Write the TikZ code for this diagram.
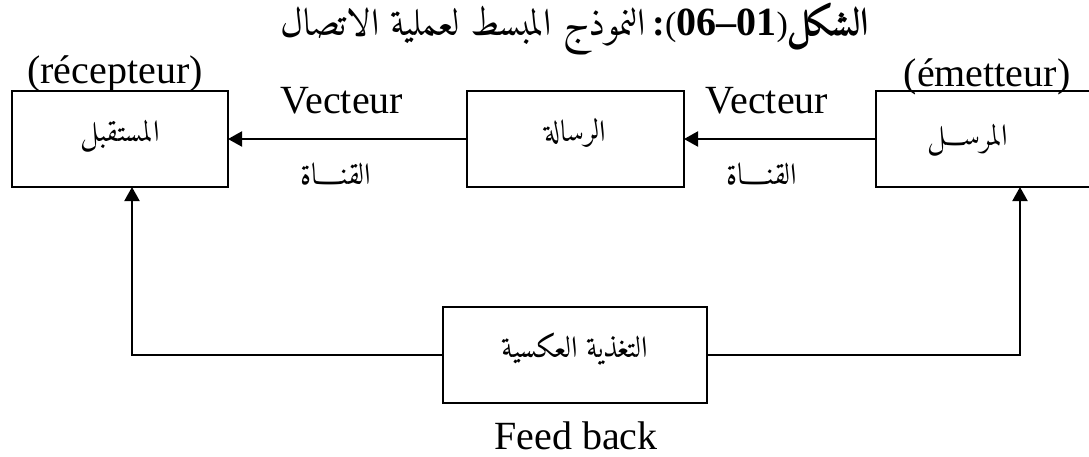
\documentclass[tikz,border=0pt]{standalone}
\usepackage{fontspec}
\usetikzlibrary{arrows.meta}
\setmainfont{Liberation Serif}
\TeXXeTstate=1
\IfFontExistsTF{Amiri-Regular.ttf}{%
  \newfontfamily\arabicfont[Script=Arabic,BoldFont=Amiri-Bold.ttf]{Amiri-Regular.ttf}%
}{%
  \newfontfamily\arabicfont[Script=Arabic]{DejaVu Sans}%
}
\begin{document}
\begin{tikzpicture}[x=0.5pt,y=-0.5pt,
  box/.style={draw, line width=1pt, inner sep=0pt, outer sep=0pt,
    minimum height=48pt, text height=6pt, text depth=4pt,
    font=\arabicfont\fontsize{15}{18}\selectfont},
  link/.style={line width=1pt, -{Triangle[length=7pt,width=7.5pt]}},
  lat/.style={font=\fontsize{20}{24}\selectfont, inner sep=0pt, anchor=base},
  arb/.style={font=\arabicfont\fontsize{15}{18}\selectfont, inner sep=0pt, anchor=base}]
\useasboundingbox (0,0) rectangle (1089,456);

% title
\node[inner sep=0pt, anchor=base] (title) at (575,35)
  {\beginR{\arabicfont\bfseries\fontsize{19.5}{22}\selectfont الشكل}{\fontsize{17}{20}\selectfont )}\beginL{\bfseries\fontsize{20}{24}\selectfont 06–01}\endL{\fontsize{17}{20}\selectfont (}{\bfseries\fontsize{19}{22}\selectfont :} {\arabicfont\fontsize{19}{22}\selectfont النموذج المبسط لعملية الاتصال}\endR};

% blocks
\node[box, minimum width=108pt] (recv) at (120,139) {\beginR المستقبل\endR};
\node[box, minimum width=108.5pt] (msg) at (575.5,139) {\beginR الرسالة\endR};
\node[box, minimum width=112pt] (send) at (988,139) {};
\node[arb] (sendtxt) at (968,145) {\beginR المرســـل\endR};
\node[box, minimum width=132pt] (fb) at (575,355) {\beginR التغذية العكسية\endR};

% labels
\node[lat] (recvlbl) at (115,83) {(récepteur)};
\node[lat] (sendlbl) at (987,86) {(émetteur)};
\node[lat] (vec1) at (342,113) {Vecteur};
\node[lat] (vec2) at (767,113) {Vecteur};
\node[arb] (ch1) at (336,184) {\beginR القنــــاة\endR};
\node[arb] (ch2) at (762,184) {\beginR القنــــاة\endR};
\node[lat] (fblbl) at (576,449) {Feed back};

% connectors
\draw[link] (msg.west) -- (recv.east);
\draw[link] (send.west) -- (msg.east);
\coordinate (fl) at (132,355);
\coordinate (fr) at (1020,355);
\draw[link] (fb.west) -- (fl) -- (fl |- recv.south);
\draw[link] (fb.east) -- (fr) -- (fr |- send.south);
\end{tikzpicture}
\end{document}
